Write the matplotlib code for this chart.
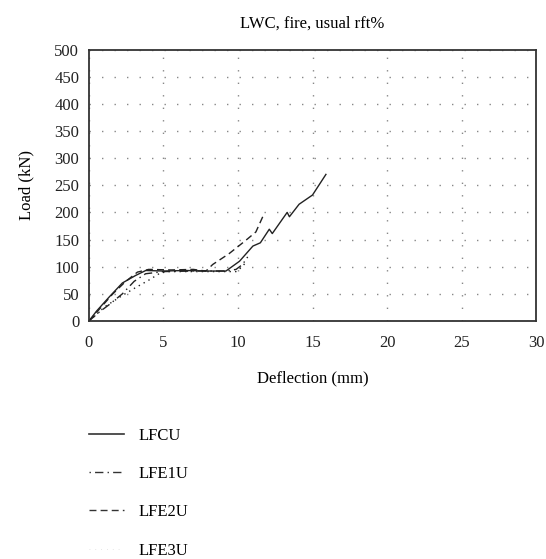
import matplotlib
matplotlib.use('Agg')
import matplotlib.pyplot as plt
from matplotlib.lines import Line2D

plt.rcParams['font.family'] = ['Liberation Serif', 'DejaVu Serif']
plt.rcParams['font.size'] = 12

# load-deflection curves
lfcu_x = [0, 0.5, 1.35, 2.24, 3.14, 3.81, 5.0, 6.5, 8.0, 9.19, 10.1, 11.0, 11.5, 12.1, 12.3, 13.3, 13.45, 14.1, 15.0, 15.9]
lfcu_y = [0, 18, 44, 70, 84, 93, 92, 93, 92, 92, 110, 138, 144, 169, 161, 200, 192, 215, 232, 270]

lfe1u_x = [0, 0.67, 1.35, 2.24, 3.03, 3.8, 5.0, 7.0, 9.2, 9.87, 10.3, 10.65]
lfe1u_y = [0, 16, 30, 50, 73, 87, 91, 92, 92, 95, 104, 118]

lfe2u_x = [0, 0.8, 1.6, 2.47, 3.25, 4.0, 5.5, 7.0, 7.85, 8.3, 9.4, 10.5, 11.2, 11.66]
lfe2u_y = [0, 25, 50, 73, 90, 95, 94, 95, 92, 104, 124, 148, 164, 192]

lfe3u_x = [0, 1.1, 2.24, 3.1, 4.0, 4.7, 5.2, 7.0, 9.87, 10.2, 10.5]
lfe3u_y = [0, 27, 47, 61, 75, 87, 91, 91, 91, 98, 107]

labels = ['LFCU', 'LFE1U', 'LFE2U', 'LFE3U']
x_ticks = [0, 5, 10, 15, 20, 25, 30]
y_ticks = [0, 50, 100, 150, 200, 250, 300, 350, 400, 450, 500]

fig = plt.figure(figsize=(5.46, 5.59), dpi=100)
ax = fig.add_axes([0.163, 0.4258, 0.8187, 0.4856])

line_col = '#222222'
ax.plot(lfcu_x, lfcu_y, color=line_col, lw=1.0, ls='-')
ax.plot(lfe1u_x, lfe1u_y, color=line_col, lw=1.0, ls=(0, (6, 3, 1, 3)))
ax.plot(lfe2u_x, lfe2u_y, color=line_col, lw=1.0, ls=(0, (5, 3)))
ax.plot(lfe3u_x, lfe3u_y, color=line_col, lw=1.0, ls=(0, (1, 3)))

ax.set_xlim(0, 30)
ax.set_ylim(0, 500)
ax.set_xticks(x_ticks)
ax.set_yticks(y_ticks)
ax.tick_params(length=0, labelsize=12, colors='#222222')
ax.tick_params(axis='x', pad=10)
ax.tick_params(axis='y', pad=7)
ax.grid(True, color='#888888', lw=1.0, ls=(0, (1, 8)))
for s in ax.spines.values():
    s.set_color('#333333')
    s.set_linewidth(1.3)

ax.set_title('LWC, fire, usual rft%', fontsize=12, pad=16)
ax.set_xlabel('Deflection (mm)', fontsize=12, labelpad=14)
ax.set_ylabel('Load (kN)', fontsize=12, labelpad=14)

handles = [
    Line2D([], [], color='#333333', lw=1.2, ls='-'),
    Line2D([], [], color='#333333', lw=1.0, ls=(0, (1, 3, 6, 3))),
    Line2D([], [], color='#333333', lw=1.0, ls=(0, (5, 3))),
    Line2D([], [], color='#dddddd', lw=0.6, ls=(0, (1, 6))),
]
fig.legend(handles, labels, loc='upper left', bbox_to_anchor=(0.163, 0.235),
           frameon=False, borderpad=0, borderaxespad=0, handlelength=2.1,
           handletextpad=0.85, labelspacing=1.34, fontsize=12)

fig.savefig('out.png', dpi=100)
